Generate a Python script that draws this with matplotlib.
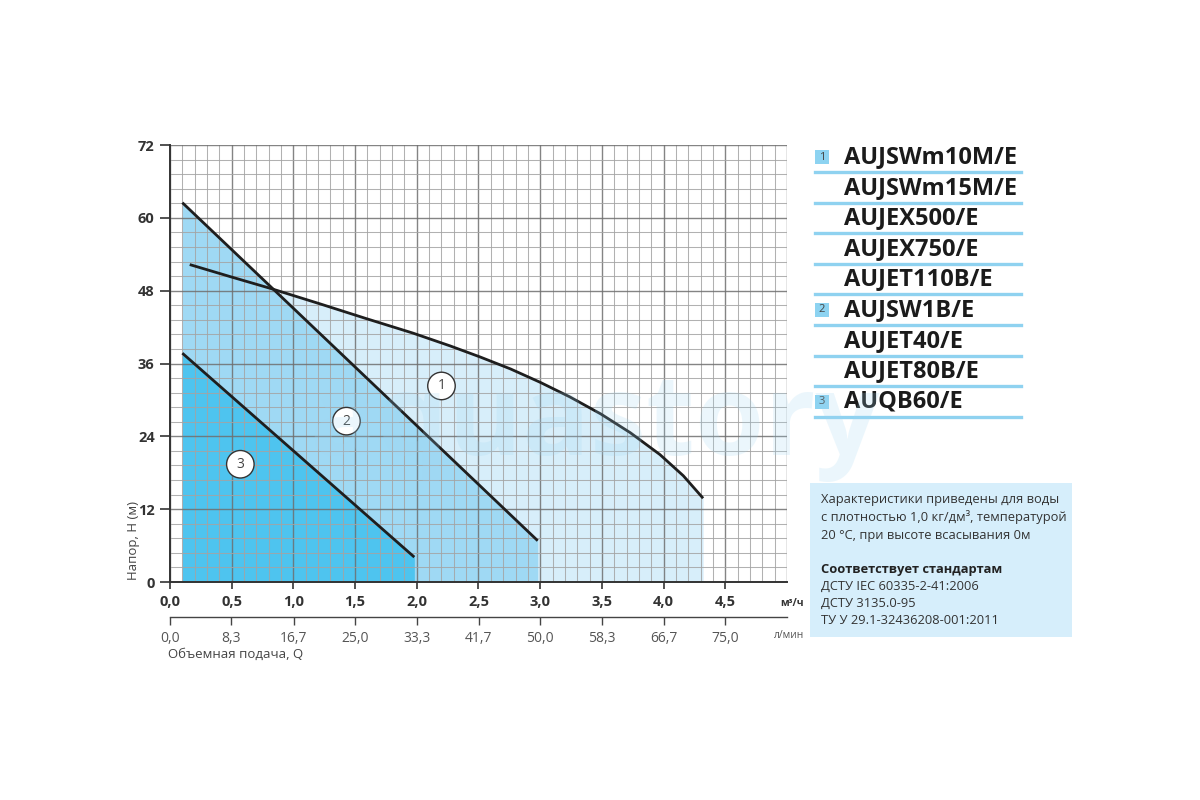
import matplotlib
matplotlib.use("Agg")
import matplotlib.pyplot as plt
import numpy as np
from matplotlib.patches import Rectangle

# ---------------- data ----------------
curve1_q = [0.16, 0.49, 0.81, 1.22, 1.59, 1.97, 2.27, 2.51, 2.76, 3.00, 3.24, 3.49, 3.73, 3.97, 4.16, 4.32]
curve1_h = [52.3, 50.3, 48.4, 45.8, 43.4, 41.0, 38.9, 37.1, 35.1, 32.9, 30.5, 27.7, 24.6, 21.0, 17.5, 13.8]
curve2_q = [0.10, 2.98]
curve2_h = [62.5, 6.8]
curve3_q = [0.10, 1.98]
curve3_h = [37.7, 4.1]

label_ids = ["1", "2", "3"]
label_q = [2.2, 1.43, 0.57]
label_h = [32.3, 26.5, 19.4]

x_ticks = [0.0, 0.5, 1.0, 1.5, 2.0, 2.5, 3.0, 3.5, 4.0, 4.5]
x_tick_labels = ["0,0", "0,5", "1,0", "1,5", "2,0", "2,5", "3,0", "3,5", "4,0", "4,5"]
lmin_ticks = [0.0, 8.3, 16.7, 25.0, 33.3, 41.7, 50.0, 58.3, 66.7, 75.0]
lmin_labels = ["0,0", "8,3", "16,7", "25,0", "33,3", "41,7", "50,0", "58,3", "66,7", "75,0"]
y_ticks = [0, 12, 24, 36, 48, 60, 72]

models = ["AUJSWm10M/E", "AUJSWm15M/E", "AUJEX500/E", "AUJEX750/E", "AUJET110B/E",
          "AUJSW1B/E", "AUJET40/E", "AUJET80B/E", "AUQB60/E"]
model_group = ["1", "", "", "", "", "2", "", "", "3"]

info_lines = ["Характеристики приведены для воды",
              "с плотностью 1,0 кг/дм³, температурой",
              "20 °C, при высоте всасывания 0м"]
std_title = "Соответствует стандартам"
std_lines = ["ДСТУ IEC 60335-2-41:2006", "ДСТУ 3135.0-95", "ТУ У 29.1-32436208-001:2011"]

# ---------------- style ----------------
plt.rcParams['font.family'] = ['Open Sans', 'DejaVu Sans']
W, H = 1200, 800
fig = plt.figure(figsize=(12, 8), dpi=100)
fig.patch.set_facecolor("white")

def fx(px):
    return px / W
def fy(py):
    return 1 - py / H

ax = fig.add_axes([fx(170), fy(582), fx(787) - fx(170), fy(145) - fy(582)])
ax.set_xlim(0, 5.0)
ax.set_ylim(0, 72)

c1 = "#d7eefa"
c2 = "#9fd9f4"
c3 = "#4ec4ef"

# fills
ax.fill_between(curve1_q, curve1_h, 0, color=c1, lw=0, zorder=0.5)
ax.fill_between(curve2_q, curve2_h, 0, color=c2, lw=0, zorder=0.6)
ax.fill_between(curve3_q, curve3_h, 0, color=c3, lw=0, zorder=0.7)

# grid
for q in np.arange(0, 5.0001, 0.1):
    major = abs(q / 0.5 - round(q / 0.5)) < 1e-6
    ax.axvline(q, color="#6f6f6f" if major else "#a4a4a4", lw=1.0 if major else 0.75,
               alpha=0.85, zorder=1)
for h in np.arange(0, 72.0001, 2.4):
    major = abs(h / 12 - round(h / 12)) < 1e-6
    ax.axhline(h, color="#6f6f6f" if major else "#a4a4a4", lw=1.0 if major else 0.75,
               alpha=0.85, zorder=1)

# curves
for qs, hs in [(curve1_q, curve1_h), (curve2_q, curve2_h), (curve3_q, curve3_h)]:
    ax.plot(qs, hs, color="#1e1e1e", lw=2.0, zorder=3, solid_capstyle="butt",
            solid_joinstyle="round")

for t, q, h in zip(label_ids, label_q, label_h):
    ax.text(q, h, t, ha="center", va="center", fontsize=10, color="#444", zorder=5,
            bbox=dict(boxstyle="circle,pad=0.45", fc="white", ec="#333", lw=1.0))

# spines
for s in ["top", "right"]:
    ax.spines[s].set_visible(False)
for s in ["left", "bottom"]:
    ax.spines[s].set_color("#333")
    ax.spines[s].set_linewidth(1.4)
    ax.spines[s].set_zorder(4)

ax.set_yticks(y_ticks)
ax.set_yticklabels([str(v) for v in y_ticks], fontsize=10.5, fontweight="bold", color="#333")
ax.set_xticks(x_ticks)
ax.set_xticklabels(x_tick_labels, fontsize=10.5, fontweight="bold", color="#333")
ax.tick_params(axis="y", length=7, width=1.2, color="#333", pad=4)
ax.tick_params(axis="x", length=5, width=1.2, color="#333", pad=4)

# secondary axis (l/min)
sec = ax.secondary_xaxis(-0.08, functions=(lambda x: x * 1000 / 60, lambda v: v * 60 / 1000))
sec.set_xticks(lmin_ticks)
sec.set_xticklabels(lmin_labels, fontsize=10, color="#555")
sec.tick_params(length=6, width=1.0, color="#444", pad=4)
sec.spines["bottom"].set_color("#444")
sec.spines["bottom"].set_linewidth(1.0)
fig.text(fx(780), fy(603), "м³/ч", fontsize=7.5, fontweight="bold", color="#333", va="center")
fig.text(fx(774), fy(636), "л/мин", fontsize=7.5, color="#555", va="center")
fig.text(fx(168), fy(654), "Объемная подача, Q", fontsize=9.5, color="#444", va="center")
fig.text(fx(133), fy(540), "Напор, Н (м)", fontsize=9.5, color="#444", va="center",
         ha="center", rotation=90)

# watermark
fig.text(fx(594), fy(425), "aquastory", fontsize=81, fontweight="bold", color="#9fd6f2",
         alpha=0.2, ha="center", va="center", zorder=10)

# legend list
row_y0, row_dy = 157, 30.6
for i, (m, g) in enumerate(zip(models, model_group)):
    yy = row_y0 + i * row_dy
    fig.text(fx(844), fy(yy), m, fontsize=17, fontweight="bold", color="#1b1b1b",
             va="center", ha="left")
    fig.add_artist(plt.Line2D([fx(815), fx(1021)], [fy(yy + 15), fy(yy + 15)],
                              color="#8fd2f0", lw=2.4, transform=fig.transFigure))
    if g:
        fig.add_artist(Rectangle((fx(815), fy(yy + 7)), 14 / W, 14 / H, fc="#8dd3f1",
                                 ec="none", transform=fig.transFigure))
        fig.text(fx(822), fy(yy), g, fontsize=8, color="#444", ha="center", va="center")

# info box
fig.add_artist(Rectangle((fx(810), fy(637)), (1072 - 810) / W, (637 - 483) / H,
                         fc="#d6eefb", ec="none", transform=fig.transFigure, zorder=0))
for i, line in enumerate(info_lines):
    fig.text(fx(821), fy(500 + i * 17.5), line, fontsize=9.3, color="#333", va="center")
fig.text(fx(821), fy(569), std_title, fontsize=9.3, fontweight="bold", color="#222", va="center")
for i, line in enumerate(std_lines):
    fig.text(fx(821), fy(586 + i * 17.5), line, fontsize=9.3, color="#333", va="center")

fig.savefig("out.png", dpi=100, facecolor="white")
